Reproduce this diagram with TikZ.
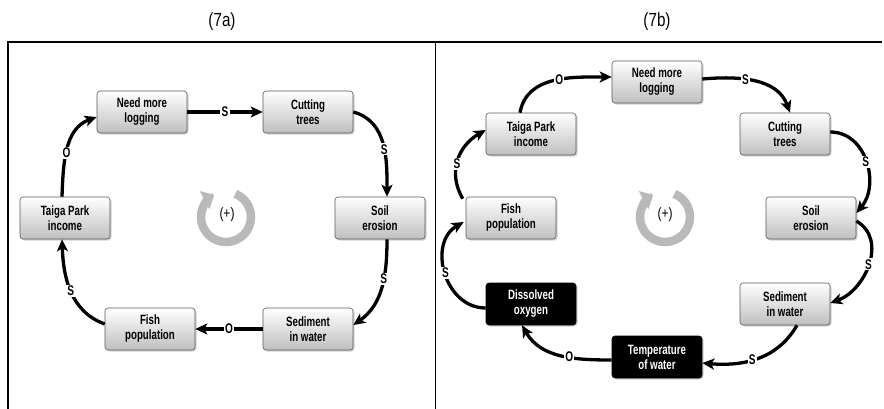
\documentclass[tikz,border=0pt]{standalone}
\usepackage{fontspec}
\setsansfont{Liberation Sans}[FakeStretch=0.72]
\newfontfamily\titlefont{Liberation Sans}[FakeStretch=0.8]
\usetikzlibrary{arrows.meta,shadows,calc}
\begin{document}
\begin{tikzpicture}[x=1pt,y=-1pt,
  box/.style={draw=gray!70!black, line width=0.6pt, rounded corners=3pt,
    minimum width=90pt, minimum height=42pt, inner sep=1pt,
    top color=white, bottom color=gray!50, align=center,
    font=\sffamily\bfseries\fontsize{13.5}{15}\selectfont,
    drop shadow={shadow xshift=1.5pt, shadow yshift=-1.5pt, opacity=0.35}},
  darkbox/.style={box, draw=black, top color=black, bottom color=black, text=white},
  link/.style={line width=3.3pt, -{Stealth[length=12pt,width=11pt,inset=3pt]}},
  lbl/.style={fill=white, inner sep=1.2pt, font=\sffamily\bfseries\fontsize{14}{15}\selectfont},
  title/.style={font=\titlefont\fontsize{19}{20}\selectfont},
  cyc/.style={draw=gray!55, line width=8.5pt, -{Triangle[length=11pt,width=20pt]}},
  frame/.style={line width=1.8pt}]
\useasboundingbox (0,0) rectangle (884,408);
% titles and frame
\node[title] (ta) at (222,22) {(7a)};
\node[title] (tb) at (657,22) {(7b)};
\coordinate (tl) at (8,42);
\coordinate (tr) at (882,42);
\coordinate (bl) at (8,410);
\coordinate (mt) at (435.5,42);
\coordinate (mb) at (435.5,410);
\draw[frame] (bl) -- (tl) -- (tr);
\draw[frame] (mt) -- (mb);

% ---------- left panel ----------
\node[box] (aneed) at (142,112) {Need more\\logging};
\node[box] (acut) at (308,112) {Cutting\\trees};
\node[box] (asoil) at (380,218) {Soil\\erosion};
\node[box] (ased) at (308,329) {Sediment\\in water};
\node[box] (afish) at (150,329) {Fish\\population};
\node[box] (ataiga) at (65,218) {Taiga Park\\income};
\coordinate (acc) at (226,217);
\begin{scope}[shift={(acc)}, x=1pt, y=1pt]
  \draw[cyc] (68:25) arc[start angle=68, end angle=-242, radius=25];
\end{scope}
\node[font=\titlefont\fontsize{15}{16}\selectfont] (aplus) at (227,215) {(+)};

\draw[link] (aneed.east) -- node[lbl]{S} (acut.west);
\draw[link] (acut.east) to[out=-15,in=90] node[lbl,pos=0.55]{S} ($(asoil.north)+(7,0)$);
\draw[link] ($(asoil.south)+(7,0)$) to[out=-90,in=35] node[lbl,pos=0.4]{S} ($(ased.east)+(0,-4)$);
\draw[link] (ased.west) -- node[lbl]{O} (afish.east);
\draw[link] ($(afish.west)+(0,-5)$) to[out=160,in=-88] node[lbl,pos=0.5]{S} ($(ataiga.south)+(-3,0)$);
\draw[link] ($(ataiga.north)+(-3,0)$) to[out=88,in=200] node[lbl,pos=0.45]{O} ($(aneed.west)+(0,5)$);

% ---------- right panel ----------
\node[box] (bneed) at (657,82) {Need more\\logging};
\node[box] (bcut) at (785,134) {Cutting\\trees};
\node[box] (bsoil) at (811,218) {Soil\\erosion};
\node[box] (bsed) at (785,304) {Sediment\\in water};
\node[darkbox] (btemp) at (657,357) {Temperature\\of water};
\node[darkbox] (boxy) at (531,304) {Dissolved\\oxygen};
\node[box] (bfish) at (511,218) {Fish\\population};
\node[box] (btaiga) at (531,134) {Taiga Park\\income};
\coordinate (bcc) at (665,217);
\begin{scope}[shift={(bcc)}, x=1pt, y=1pt]
  \draw[cyc] (68:25) arc[start angle=68, end angle=-242, radius=25];
\end{scope}
\node[font=\titlefont\fontsize{15}{16}\selectfont] (bplus) at (665,215) {(+)};

\draw[link] ($(btaiga.north)+(-11,0)$) to[out=80,in=180] node[lbl,pos=0.55]{O} ($(bneed.west)+(0,-5)$);
\draw[link] ($(bneed.east)+(0,-3)$) to[out=5,in=110] node[lbl,pos=0.4]{S} ($(bcut.north)+(5,0)$);
\draw[link] ($(bcut.east)+(0,-2)$) to[out=0,in=50,looseness=1.1] node[lbl,pos=0.5]{S} ($(bsoil.east)+(0,-5)$);
\draw[link] ($(bsoil.east)+(0,3)$) to[out=-30,in=20,looseness=1.1] node[lbl,pos=0.5]{S} ($(bsed.east)+(0,-1)$);
\draw[link] ($(bsed.south)+(12,0)$) to[out=-120,in=-5] node[lbl,pos=0.55]{S} ($(btemp.east)+(0,6)$);
\draw[link] ($(btemp.west)+(0,3)$) to[out=180,in=-60] node[lbl,pos=0.4]{O} ($(boxy.south)+(-9,0)$);
\draw[link] ($(boxy.west)+(0,4)$) to[out=180,in=-150,looseness=1.2] node[lbl,pos=0.5]{S} ($(bfish.west)+(-2,4)$);
\draw[link] ($(bfish.north west)+(-3,2)$) to[out=120,in=-150,looseness=1.1] node[lbl,pos=0.45]{S} ($(btaiga.west)+(0,-4)$);
\end{tikzpicture}
\end{document}
